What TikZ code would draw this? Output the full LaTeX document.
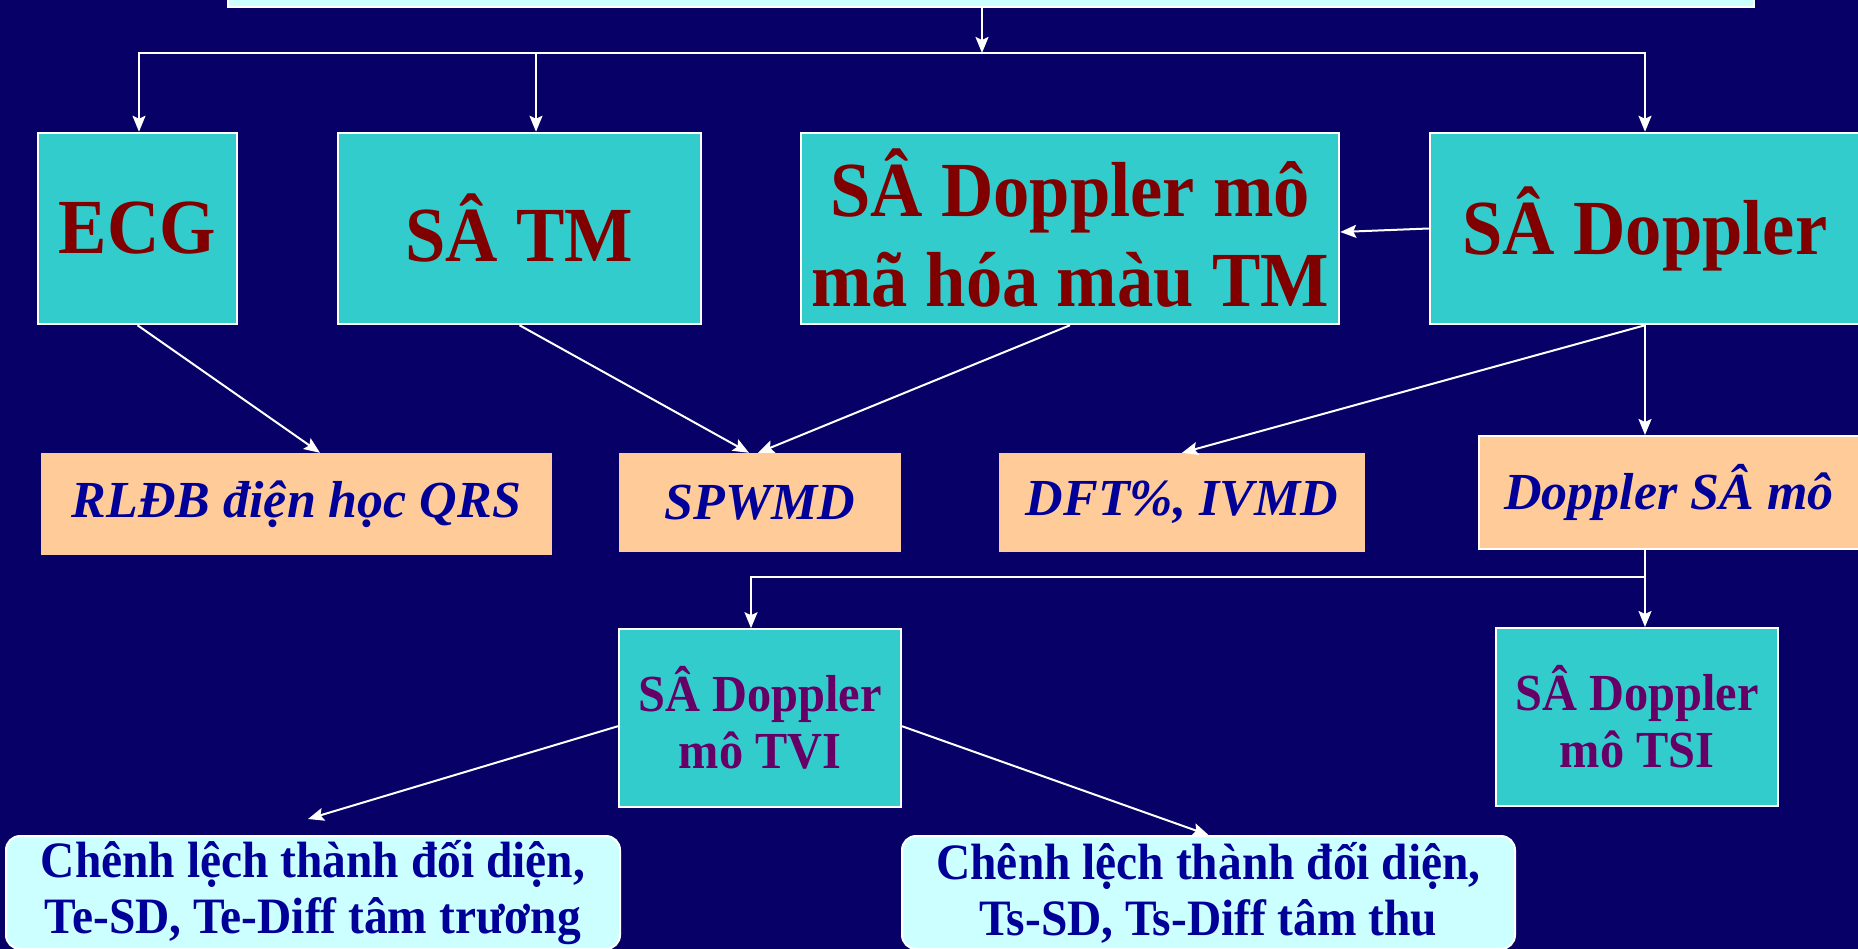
\documentclass[tikz,border=0pt]{standalone}
\usepackage{fontspec}
\setmainfont{Liberation Serif}
\newfontfamily\narrowfont{Liberation Serif}[FakeStretch=0.93]
\usetikzlibrary{positioning,arrows.meta}
\definecolor{navybg}{HTML}{070066}
\definecolor{tealbox}{HTML}{33CCCC}
\definecolor{peachbox}{HTML}{FFCC99}
\definecolor{icebox}{HTML}{CCFFFF}
\definecolor{maroontext}{HTML}{800000}
\definecolor{bluetext}{HTML}{000099}
\definecolor{plumtext}{HTML}{660066}
\tikzset{
  big node/.style={rectangle, fill=tealbox, draw=white, line width=2.5pt, inner sep=0pt, align=center,
    text=maroontext, font=\narrowfont\bfseries\fontsize{78}{90}\selectfont, minimum height=191pt},
  result node/.style={rectangle, fill=peachbox, inner sep=0pt, align=center,
    text=bluetext, font=\bfseries\itshape\fontsize{52}{60}\selectfont},
  mode node/.style={rectangle, fill=tealbox, draw=white, line width=2pt, inner sep=0pt, align=center,
    text=plumtext, font=\narrowfont\bfseries\fontsize{52}{57}\selectfont, minimum width=282pt, minimum height=178pt},
  note node/.style={rectangle, rounded corners=14pt, fill=icebox, draw=white, line width=2pt, inner sep=0pt, align=center,
    text=bluetext, font=\narrowfont\bfseries\fontsize{51}{56}\selectfont, minimum height=113pt},
  link/.style={draw=white, line width=2pt, -{Stealth[length=16pt,width=13pt,inset=3pt]}}
}

\begin{document}
\begin{tikzpicture}[x=1pt, y=-1pt]
    \fill[navybg] (0,0) rectangle (1858,949);
    \useasboundingbox (0,0) rectangle (1858,949);
    \clip (0,0) rectangle (1858,949);

    % top box, cut off by the frame
    \node[big node, fill=icebox, minimum width=1526pt, minimum height=100pt] (top) at (991,-43) {};

    % first row
    \node[big node, minimum width=199pt] (ecg) at (137.5,228.5) {ECG};
    \node[big node, minimum width=363pt] (satm) [right=98.5pt of ecg] {SÂ TM};
    \node[big node, minimum width=538pt] (mahoa) [right=97.5pt of satm] {SÂ Doppler mô\\mã hóa màu TM};
    \node[big node, minimum width=430pt] (doppler) [right=88.5pt of mahoa] {SÂ Doppler};

    % second row
    \node[result node, minimum width=511pt, minimum height=102pt] (qrs) at (296.5,504) {RLĐB điện học QRS};
    \node[result node, minimum width=282pt, minimum height=99pt] (spwmd) at (760,502.5) {SPWMD};
    \node[result node, minimum width=366pt, minimum height=99pt] (dft) at (1182,502.5) {DFT\%, IVMD};
    \node[result node, draw=white, line width=2pt, minimum width=380pt, minimum height=113pt] (tissue) at (1669,492.5) {Doppler SÂ mô};

    % third row
    \node[mode node] (tvi) [below=76pt of spwmd] {SÂ Doppler\\mô TVI};
    \node[mode node] (tsi) at (1637,717) {SÂ Doppler\\mô TSI};

    % last row
    \node[note node, minimum width=614pt] (teside) at (313,892.5) {Chênh lệch thành đối diện,\\Te-SD, Te-Diff tâm trương};
    \node[note node, minimum width=613pt] (tsside) at (1208.5,892.5) {Chênh lệch thành đối diện,\\Ts-SD, Ts-Diff tâm thu};

    % branch points
    \coordinate (bus) at (982,53);
    \coordinate (fork) at (1645,577);

    \draw[link] (top.south -| bus) -- (bus);
    \draw[link] (bus) -| ([xshift=1.5pt]ecg.north);
    \draw[link] (bus) -| ([xshift=16.5pt]satm.north);
    \draw[link] (bus) -| (doppler.north);
    \draw[link] (doppler.west) -- ([yshift=-3.5pt]mahoa.east);

    \draw[link] (ecg.south) -- ([xshift=23.5pt]qrs.north);
    \draw[link] (satm.south) -- ([xshift=-11pt]spwmd.north);
    \draw[link] (mahoa.south) -- ([xshift=-2pt]spwmd.north);
    \draw[link] (doppler.south) -- (dft.north);
    \draw[link] (doppler.south) -- (doppler.south |- tissue.north);

    \draw[link] (tissue.south -| fork) -- (fork) -| ([xshift=-9pt]tvi.north);
    \draw[link] (fork) -- (fork |- tsi.north);

    \draw[link] ([yshift=-8pt]tvi.west) -- ([xshift=-5pt, yshift=16pt]teside.north);
    \draw[link] ([yshift=-8pt]tvi.east) -- (tsside.north);
\end{tikzpicture}
\end{document}
